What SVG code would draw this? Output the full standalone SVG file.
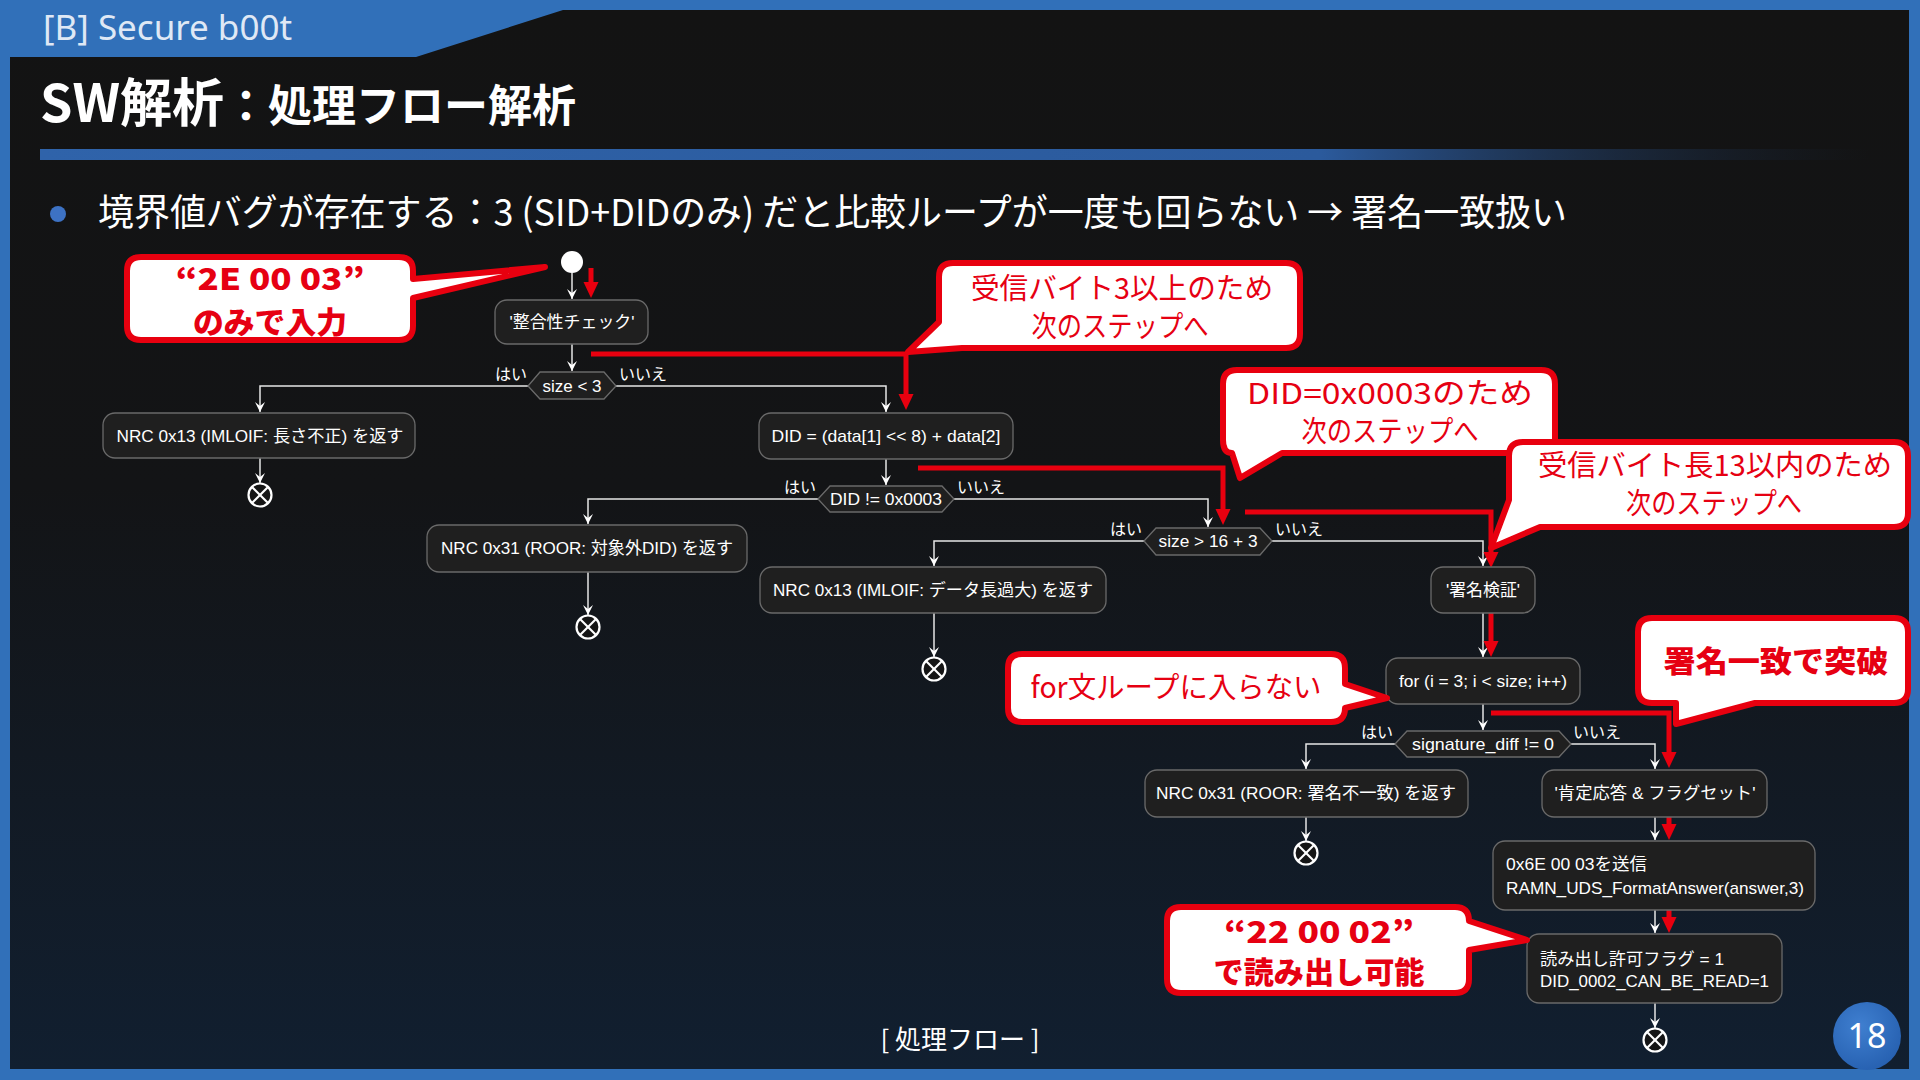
<svg xmlns="http://www.w3.org/2000/svg" width="1920" height="1080" viewBox="0 0 1920 1080">
<defs>
<linearGradient id="panelGrad" x1="0" y1="0" x2="0" y2="1">
<stop offset="0" stop-color="#131313"/>
<stop offset="0.45" stop-color="#131416"/>
<stop offset="1" stop-color="#111f30"/>
</linearGradient>
<linearGradient id="ruleGrad" x1="0" y1="0" x2="1" y2="0">
<stop offset="0" stop-color="#2f63aa"/>
<stop offset="0.7" stop-color="#2b5a9c"/>
<stop offset="1" stop-color="#1c2c44" stop-opacity="0"/>
</linearGradient>
<radialGradient id="pageGrad" cx="0.4" cy="0.35" r="0.7">
<stop offset="0" stop-color="#3f7fd0"/>
<stop offset="1" stop-color="#2660b0"/>
</radialGradient>
<marker id="wArrow" viewBox="-11 -6 12 12" refX="0" refY="0" markerWidth="12" markerHeight="12" markerUnits="userSpaceOnUse" orient="auto">
<path d="M0,0 L-10,-5 L-6,0 L-10,5 Z" fill="#ffffff"/>
</marker>
<marker id="rArrow" viewBox="0 -8 17 16" refX="0" refY="0" markerWidth="17" markerHeight="16" markerUnits="userSpaceOnUse" orient="auto">
<path d="M0,-7.5 L16,0 L0,7.5 Z" fill="#e8000f"/>
</marker>
</defs>
<style>
.node{fill:#1f1f1f;stroke:#6a6a6a;stroke-width:1.3}
.nt{font-family:"Liberation Sans","Noto Sans CJK JP",sans-serif;font-size:17px;fill:#ffffff}
.c{text-anchor:middle}
.lbl{font-family:"Noto Sans CJK JP",sans-serif;font-size:16px;fill:#ffffff}
.conn{fill:none;stroke:#e6e6e6;stroke-width:1.5;marker-end:url(#wArrow)}
.red{fill:none;stroke:#e8000f;stroke-width:5;marker-end:url(#rArrow)}
.end circle{fill:#151515;stroke:#ffffff;stroke-width:2.2}
.end line{stroke:#ffffff;stroke-width:2.2}
.callout{fill:#ffffff;stroke:#e8000f;stroke-width:6;stroke-linejoin:round}
.ct{font-family:"Noto Sans CJK JP",sans-serif;font-size:29px;fill:#e60012;text-anchor:middle}
.cb{font-family:"Noto Sans CJK JP",sans-serif;font-size:30px;font-weight:900;fill:#e60012;text-anchor:middle}
</style>

<!-- frame -->
<rect x="0" y="0" width="1920" height="1080" fill="#3170b9"/>
<path d="M10,57 H416 L563,10 H1909 V1069 H10 Z" fill="url(#panelGrad)"/>
<text x="43" y="40" font-family="Noto Sans, sans-serif" font-size="35" fill="#dfe8f5">[B] Secure b00t</text>
<text x="40" y="122" font-family="Noto Sans CJK JP, sans-serif" font-weight="700" fill="#ffffff"><tspan font-size="52">SW解析</tspan><tspan font-size="44">：処理フロー解析</tspan></text>
<rect x="40" y="149" width="1830" height="11" fill="url(#ruleGrad)"/>
<circle cx="58" cy="214" r="8" fill="#3d72c4"/>
<text x="98" y="226" font-family="Noto Sans CJK JP, sans-serif" font-size="37" fill="#ffffff" textLength="1469" lengthAdjust="spacingAndGlyphs">境界値バグが存在する：3 (SID+DIDのみ) だと比較ループが一度も回らない → 署名一致扱い</text>
<text x="960" y="1049" font-family="Noto Sans CJK JP, sans-serif" font-size="26" fill="#ffffff" text-anchor="middle">[ 処理フロー ]</text>
<circle cx="1867" cy="1036" r="34" fill="url(#pageGrad)"/>
<text x="1867" y="1048" font-family="Noto Sans, sans-serif" font-size="34" fill="#ffffff" text-anchor="middle">18</text>

<!-- connectors -->
<g id="connectors">
<path class="conn" d="M572,273 V299"/>
<path class="conn" d="M572,344 V371"/>
<path class="conn" d="M528,386 H260 V412"/>
<path class="conn" d="M616,386 H886 V412"/>
<path class="conn" d="M260,458 V483"/>
<path class="conn" d="M886,459 V485"/>
<path class="conn" d="M818,499 H588 V524"/>
<path class="conn" d="M954,499 H1208 V527"/>
<path class="conn" d="M588,572 V615"/>
<path class="conn" d="M1144,541 H934 V566"/>
<path class="conn" d="M1272,541 H1483 V566"/>
<path class="conn" d="M934,613 V657"/>
<path class="conn" d="M1483,613 V657"/>
<path class="conn" d="M1483,704 V730"/>
<path class="conn" d="M1395,744 H1306 V769"/>
<path class="conn" d="M1571,744 H1655 V769"/>
<path class="conn" d="M1306,817 V841"/>
<path class="conn" d="M1655,817 V840"/>
<path class="conn" d="M1655,910 V933"/>
<path class="conn" d="M1655,1003 V1028"/>
<g id="red-path">
<path class="red" d="M591,268 V282"/>
<path class="red" d="M591,354 H906 V394"/>
<path class="red" d="M918,468 H1223 V509"/>
<path class="red" d="M1245,512 H1491 V552"/>
<path class="red" d="M1491,613 V641"/>
<path class="red" d="M1491,713 H1669 V752"/>
<path class="red" d="M1669,817 V824"/>
<path class="red" d="M1669,910 V917"/>
</g>
</g>

<!-- nodes -->
<g id="start"><circle cx="572" cy="262" r="11" fill="#ffffff"/></g>
<g id="n-check"><rect class="node" x="495" y="300" width="153" height="44" rx="12"/><text class="nt c" x="572" y="328" textLength="125" lengthAdjust="spacingAndGlyphs">'整合性チェック'</text></g>
<g id="d-size3"><path class="node" d="M540,372 H604 L616,386 L604,399 H540 L528,386 Z"/><text class="nt c" x="572" y="392" textLength="59" lengthAdjust="spacingAndGlyphs">size &lt; 3</text>
<text class="lbl" x="527" y="380" text-anchor="end">はい</text><text class="lbl" x="619" y="380">いいえ</text></g>
<g id="n-nrc13a"><rect class="node" x="103" y="413" width="312" height="45" rx="12"/><text class="nt c" x="260" y="442" textLength="287" lengthAdjust="spacingAndGlyphs">NRC 0x13 (IMLOIF: 長さ不正) を返す</text></g>
<g id="e1" class="end"><circle cx="260" cy="495" r="11.5"/><line x1="252" y1="487" x2="268" y2="503"/><line x1="268" y1="487" x2="252" y2="503"/></g>
<g id="n-did"><rect class="node" x="759" y="413" width="254" height="46" rx="12"/><text class="nt c" x="886" y="442" textLength="229" lengthAdjust="spacingAndGlyphs">DID = (data[1] &lt;&lt; 8) + data[2]</text></g>
<g id="d-did"><path class="node" d="M830,486 H942 L954,499 L942,512 H830 L818,499 Z"/><text class="nt c" x="886" y="505" textLength="112" lengthAdjust="spacingAndGlyphs">DID != 0x0003</text>
<text class="lbl" x="816" y="493" text-anchor="end">はい</text><text class="lbl" x="957" y="493">いいえ</text></g>
<g id="n-nrc31a"><rect class="node" x="427" y="525" width="320" height="47" rx="12"/><text class="nt c" x="587" y="554" textLength="292" lengthAdjust="spacingAndGlyphs">NRC 0x31 (ROOR: 対象外DID) を返す</text></g>
<g id="e2" class="end"><circle cx="588" cy="627" r="11.5"/><line x1="580" y1="619" x2="596" y2="635"/><line x1="596" y1="619" x2="580" y2="635"/></g>
<g id="d-size19"><path class="node" d="M1156,528 H1260 L1272,541 L1260,555 H1156 L1144,541 Z"/><text class="nt c" x="1208" y="547" textLength="99" lengthAdjust="spacingAndGlyphs">size &gt; 16 + 3</text>
<text class="lbl" x="1142" y="535" text-anchor="end">はい</text><text class="lbl" x="1275" y="535">いいえ</text></g>
<g id="n-nrc13b"><rect class="node" x="760" y="567" width="346" height="46" rx="12"/><text class="nt c" x="933" y="596" textLength="320" lengthAdjust="spacingAndGlyphs">NRC 0x13 (IMLOIF: データ長過大) を返す</text></g>
<g id="e3" class="end"><circle cx="934" cy="669" r="11.5"/><line x1="926" y1="661" x2="942" y2="677"/><line x1="942" y1="661" x2="926" y2="677"/></g>
<g id="n-verify"><rect class="node" x="1431" y="567" width="104" height="46" rx="12"/><text class="nt c" x="1483" y="596" textLength="74" lengthAdjust="spacingAndGlyphs">'署名検証'</text></g>
<g id="n-for"><rect class="node" x="1386" y="658" width="194" height="46" rx="12"/><text class="nt c" x="1483" y="687" textLength="168" lengthAdjust="spacingAndGlyphs">for (i = 3; i &lt; size; i++)</text></g>
<g id="d-sig"><path class="node" d="M1407,731 H1559 L1571,744 L1559,757 H1407 L1395,744 Z"/><text class="nt c" x="1483" y="750" textLength="142" lengthAdjust="spacingAndGlyphs">signature_diff != 0</text>
<text class="lbl" x="1393" y="738" text-anchor="end">はい</text><text class="lbl" x="1573" y="738">いいえ</text></g>
<g id="n-nrc31b"><rect class="node" x="1145" y="770" width="323" height="47" rx="12"/><text class="nt c" x="1306" y="799" textLength="300" lengthAdjust="spacingAndGlyphs">NRC 0x31 (ROOR: 署名不一致) を返す</text></g>
<g id="e4" class="end"><circle cx="1306" cy="853" r="11.5"/><line x1="1298" y1="845" x2="1314" y2="861"/><line x1="1314" y1="845" x2="1298" y2="861"/></g>
<g id="n-ok"><rect class="node" x="1542" y="770" width="225" height="47" rx="12"/><text class="nt c" x="1655" y="799" textLength="201" lengthAdjust="spacingAndGlyphs">'肯定応答 &amp; フラグセット'</text></g>
<g id="n-send"><rect class="node" x="1493" y="841" width="322" height="69" rx="12"/><text class="nt" x="1506" y="870" textLength="141" lengthAdjust="spacingAndGlyphs">0x6E 00 03を送信</text><text class="nt" x="1506" y="894" textLength="298" lengthAdjust="spacingAndGlyphs">RAMN_UDS_FormatAnswer(answer,3)</text></g>
<g id="n-flag"><rect class="node" x="1527" y="934" width="255" height="69" rx="12"/><text class="nt" x="1540" y="965" textLength="184" lengthAdjust="spacingAndGlyphs">読み出し許可フラグ = 1</text><text class="nt" x="1540" y="987" textLength="229" lengthAdjust="spacingAndGlyphs">DID_0002_CAN_BE_READ=1</text></g>
<g id="e5" class="end"><circle cx="1655" cy="1040" r="11.5"/><line x1="1647" y1="1032" x2="1663" y2="1048"/><line x1="1663" y1="1032" x2="1647" y2="1048"/></g>

<!-- callouts -->
<g id="callout-input"><path class="callout" d="M141,257 H399 Q413,257 413,271 V279 L545,267 L413,298 V326 Q413,340 399,340 H141 Q127,340 127,326 V271 Q127,257 141,257 Z"/>
<text class="cb" x="270" y="290" textLength="189" lengthAdjust="spacingAndGlyphs">“2E 00 03”</text><text class="cb" x="270" y="333" font-size="29" textLength="154" lengthAdjust="spacingAndGlyphs">のみで入力</text></g>
<g id="callout-3bytes"><path class="callout" d="M953,263 H1286 Q1300,263 1300,277 V334 Q1300,348 1286,348 H962 L908,352 L939,322 V277 Q939,263 953,263 Z"/>
<text class="ct" x="1122" y="299" textLength="302" lengthAdjust="spacingAndGlyphs">受信バイト3以上のため</text><text class="ct" x="1120" y="337" textLength="177" lengthAdjust="spacingAndGlyphs">次のステップへ</text></g>
<g id="callout-did"><path class="callout" d="M1237,370 H1541 Q1555,370 1555,384 V439 Q1555,453 1541,453 H1282 L1240,478 L1232,453 Q1223,453 1223,440 V384 Q1223,370 1237,370 Z"/>
<text class="ct" x="1390" y="404" textLength="286" lengthAdjust="spacingAndGlyphs">DID=0x0003のため</text><text class="ct" x="1390" y="442" textLength="177" lengthAdjust="spacingAndGlyphs">次のステップへ</text></g>
<g id="callout-len"><path class="callout" d="M1523,442 H1894 Q1908,442 1908,456 V513 Q1908,527 1894,527 H1540 L1491,548 L1509,500 V456 Q1509,442 1523,442 Z"/>
<text class="ct" x="1715" y="476" textLength="354" lengthAdjust="spacingAndGlyphs">受信バイト長13以内のため</text><text class="ct" x="1714" y="514" textLength="176" lengthAdjust="spacingAndGlyphs">次のステップへ</text></g>
<g id="callout-bypass"><path class="callout" d="M1652,618 H1894 Q1908,618 1908,632 V689 Q1908,703 1894,703 H1755 L1676,724 L1676,703 H1652 Q1638,703 1638,689 V632 Q1638,618 1652,618 Z"/>
<text class="cb" x="1776" y="672" textLength="225" lengthAdjust="spacingAndGlyphs">署名一致で突破</text></g>
<g id="callout-for"><path class="callout" d="M1022,654 H1331 Q1345,654 1345,668 V684 L1387,698 L1345,708 Q1345,722 1331,722 H1022 Q1008,722 1008,708 V668 Q1008,654 1022,654 Z"/>
<text class="ct" x="1176" y="698" textLength="291" lengthAdjust="spacingAndGlyphs">for文ループに入らない</text></g>
<g id="callout-read"><path class="callout" d="M1181,907 H1455 Q1469,907 1469,921 L1527,940 L1469,950 V979 Q1469,993 1455,993 H1181 Q1167,993 1167,979 V921 Q1167,907 1181,907 Z"/>
<text class="cb" x="1319" y="943" textLength="190" lengthAdjust="spacingAndGlyphs">“22 00 02”</text><text class="cb" x="1319" y="983" textLength="211" lengthAdjust="spacingAndGlyphs">で読み出し可能</text></g>
</svg>
